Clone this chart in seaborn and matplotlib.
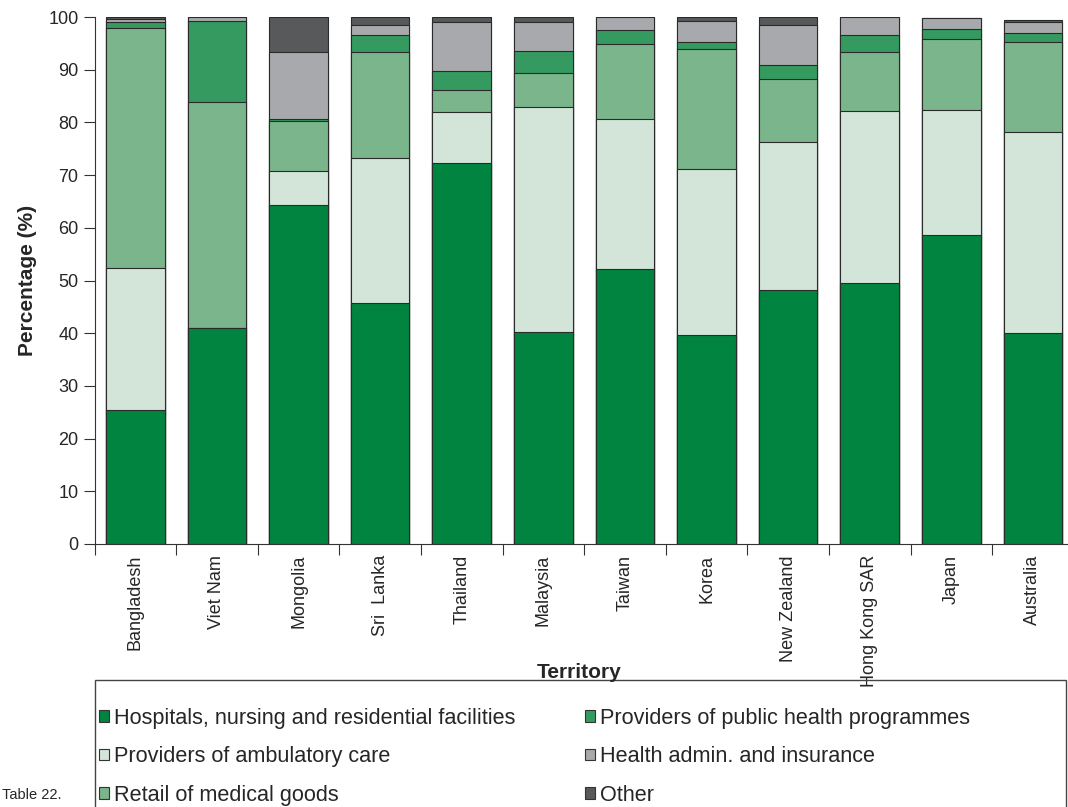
import numpy as np
import pandas as pd
import matplotlib
matplotlib.use("Agg")
import matplotlib.pyplot as plt
from matplotlib.patches import Patch, Rectangle
import seaborn as sns

# Data (percent of current health expenditure by provider)
territories = ['Bangladesh', 'Viet Nam', 'Mongolia', 'Sri  Lanka', 'Thailand', 'Malaysia',
               'Taiwan', 'Korea', 'New Zealand', 'Hong Kong SAR', 'Japan', 'Australia']
hospitals = [25.5, 41.0, 64.4, 45.8, 72.3, 40.3, 52.2, 39.6, 48.2, 49.5, 58.7, 40.1]
ambulatory = [26.8, 0.0, 6.3, 27.4, 9.6, 42.6, 28.4, 31.6, 28.1, 32.7, 23.6, 38.0]
retail = [45.6, 42.9, 9.6, 20.2, 4.2, 6.5, 14.2, 22.8, 12.0, 11.1, 13.5, 17.2]
public_health = [1.1, 15.3, 0.4, 3.1, 3.7, 4.2, 2.7, 1.2, 2.6, 3.2, 2.0, 1.6]
admin = [0.7, 0.8, 12.6, 1.9, 9.3, 5.5, 2.5, 4.0, 7.5, 3.5, 2.0, 2.1]
other = [0.3, 0.0, 6.7, 1.6, 0.9, 0.9, 0.0, 0.8, 1.6, 0.0, 0.0, 0.4]

series = ['Hospitals, nursing and residential facilities', 'Providers of ambulatory care',
          'Retail of medical goods', 'Providers of public health programmes',
          'Health admin. and insurance', 'Other']
colors = ['#00843f', '#d3e5d8', '#7ab58b', '#359a60', '#a7a9ac', '#58595b']

df = pd.DataFrame({'territory': territories,
                   series[0]: hospitals, series[1]: ambulatory, series[2]: retail,
                   series[3]: public_health, series[4]: admin, series[5]: other})
cum = df[series].cumsum(axis=1)

sns.set_style("ticks")
plt.rcParams['font.family'] = ['Liberation Sans', 'DejaVu Sans']

fig = plt.figure(figsize=(10.68, 8.07), dpi=100)
W, H = 1068, 807
ax = fig.add_axes([94.5 / W, 1 - 544 / H, 1 - 94.5 / W, (544 - 17) / H])

# Draw cumulative totals from the top down so each segment overlays the previous
for name, c in reversed(list(zip(series, colors))):
    sns.barplot(x=df['territory'], y=cum[name], order=territories, color=c, saturation=1,
                width=0.72, edgecolor='#2a2a2a', linewidth=0.8, ax=ax)

ax.set_ylim(0, 100)
ax.set_xlim(-0.5, 11.43)
ax.set_yticks(np.arange(0, 101, 10))
ax.tick_params(axis='y', labelsize=13, length=8, width=0.8, color='#333333')
ax.set_xticks(range(len(territories)))
ax.set_xticklabels(territories, rotation=90, fontsize=13)
ax.tick_params(axis='x', which='major', length=0, pad=8)
ax.set_xticks(np.arange(-0.5, 11, 1.0), minor=True)
ax.tick_params(axis='x', which='minor', length=8, width=0.8, color='#333333')
sns.despine(ax=ax)
for s in ['left', 'bottom']:
    ax.spines[s].set_linewidth(0.8)
    ax.spines[s].set_color('#333333')

ax.set_xlabel('')
ax.set_ylabel('Percentage (%)', fontsize=15, fontweight='bold', labelpad=8)
fig.text(579 / W, 1 - 672 / H, 'Territory', fontsize=15, fontweight='bold',
         ha='center', va='center')

# Legend with a separate frame box
handles = [Patch(facecolor=c, edgecolor='#333333', linewidth=0.8) for c in colors]
fig.legend(handles, series, loc='upper left', bbox_to_anchor=(99 / W, 1 - 708 / H),
           ncol=2, frameon=False, fontsize=15.6, handlelength=0.45, handleheight=0.45,
           handletextpad=0.25, labelspacing=0.8, columnspacing=3.2, borderaxespad=0,
           borderpad=0)
fig.add_artist(Rectangle((95 / W, -0.05), (1066 - 95) / W, 0.05 + 1 - 680 / H,
                         transform=fig.transFigure, fill=False, edgecolor='#444444',
                         linewidth=1.0))

fig.text(2 / W, 1 - 795 / H, 'Table 22.', fontsize=10.5, va='center', ha='left')

fig.savefig('out.png', dpi=100)
